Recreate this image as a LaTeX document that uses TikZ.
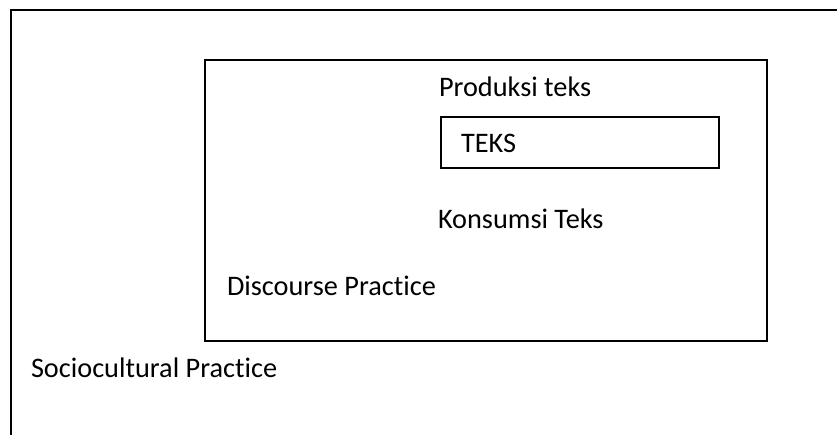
\documentclass[tikz,border=0pt]{standalone}
\usepackage{fontspec}
\setmainfont{Carlito}[Ligatures=NoCommon]
\begin{document}
\begin{tikzpicture}[x=1pt,y=-1pt,
  frame/.style={draw=black,line width=2pt},
  label/.style={anchor=base west,inner sep=0pt,outer sep=0pt,font=\fontsize{28.3}{34}\selectfont}]
\useasboundingbox (0,0) rectangle (837,435);
% outer (open) frame
\draw[frame] (10.5,436) -- (10.5,10.5) -- (838,10.5);
% inner box
\draw[frame] (205,60) rectangle (767,341);
% TEKS box
\node[frame,draw,minimum width=278pt,minimum height=51pt,anchor=north west,inner sep=0pt] (teksbox) at (440,116) {};
\node[label] (teks) at (461,152.5) {TEKS};
\node[label] (produksi) at (439,96.5) {Produksi teks};
\node[label] (konsumsi) at (438,229) {Konsumsi Teks};
\node[label] (discourse) at (227,296) {Discourse Practice};
\node[label] (socio) at (31,377) {Sociocultural Practice};
\end{tikzpicture}
\end{document}
